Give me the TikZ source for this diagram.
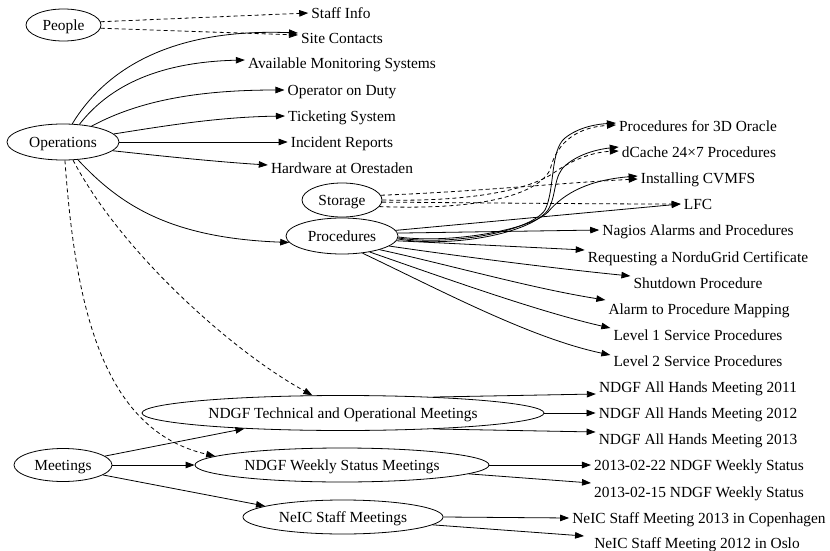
\documentclass[tikz,border=0pt]{standalone}
\usepackage{fontspec}
\setmainfont{Liberation Serif}
\usetikzlibrary{arrows.meta,shapes.geometric}
\begin{document}
\begin{tikzpicture}[x=1pt,y=-1pt,
  every node/.style={font=\fontsize{15.4}{18}\selectfont, text height=10.5pt, text depth=0pt},
  ell/.style={draw, ellipse, inner sep=0pt, line width=0.8pt},
  lbl/.style={inner xsep=3pt, inner ysep=0pt},
  e/.style={line width=0.8pt, -{Triangle[length=9pt,width=6.5pt]}},
  de/.style={e, dash pattern=on 4pt off 3pt}]
\useasboundingbox (0,0) rectangle (830,551);
% ellipses
\node[ell, minimum width=75pt, minimum height=32pt] (people) at (63.5,25) {People};
\node[ell, minimum width=112pt, minimum height=36pt] (ops) at (63,142) {Operations};
\node[ell, minimum width=80pt, minimum height=34pt] (sto) at (342,200) {Storage};
\node[ell, minimum width=112pt, minimum height=36pt] (proc) at (342,236) {Procedures};
\node[ell, minimum width=98pt, minimum height=33pt] (mtg) at (63,465) {Meetings};
\node[ell, minimum width=402pt, minimum height=35pt] (tech) at (343,413) {NDGF Technical and Operational Meetings};
\node[ell, minimum width=294pt, minimum height=34pt] (weekly) at (342,465) {NDGF Weekly Status Meetings};
\node[ell, minimum width=200pt, minimum height=34pt] (neic) at (343,517) {NeIC Staff Meetings};
% labels
\node[lbl] (staff) at (341,13) {Staff Info};
\node[lbl] (site) at (342,38) {Site Contacts};
\node[lbl] (avail) at (342,63) {Available Monitoring Systems};
\node[lbl] (duty) at (342,90) {Operator on Duty};
\node[lbl] (tick) at (342,116) {Ticketing System};
\node[lbl] (inc) at (342,142) {Incident Reports};
\node[lbl] (hw) at (342,168) {Hardware at Orestaden};
\node[lbl] (ora) at (698,126) {Procedures for 3D Oracle};
\node[lbl] (dc) at (699,152) {dCache 24×7 Procedures};
\node[lbl] (cvm) at (698,178) {Installing CVMFS};
\node[lbl] (lfc) at (698,204) {LFC};
\node[lbl] (nag) at (698,230) {Nagios Alarms and Procedures};
\node[lbl] (req) at (698,257) {Requesting a NorduGrid Certificate};
\node[lbl] (shut) at (698,283) {Shutdown Procedure};
\node[lbl] (alarm) at (699,309) {Alarm to Procedure Mapping};
\node[lbl] (l1) at (698,335) {Level 1 Service Procedures};
\node[lbl] (l2) at (698,361) {Level 2 Service Procedures};
\node[lbl] (a11) at (698,387) {NDGF All Hands Meeting 2011};
\node[lbl] (a12) at (698,413) {NDGF All Hands Meeting 2012};
\node[lbl] (a13) at (698,439) {NDGF All Hands Meeting 2013};
\node[lbl] (w22) at (699,465) {2013-02-22 NDGF Weekly Status};
\node[lbl] (w15) at (699,492) {2013-02-15 NDGF Weekly Status};
\node[lbl] (cph) at (699,518) {NeIC Staff Meeting 2013 in Copenhagen};
\node[lbl] (oslo) at (697,543) {NeIC Staff Meeting 2012 in Oslo};
% People
\draw[de] (people.5) -- (staff.west);
\draw[de] (people.-5) -- ([shift={(0,-3)}]site.west);
% Operations
\draw[e] (ops.63) .. controls (105,70) and (170,28) .. ([shift={(0,-5)}]site.west);
\draw[e] (ops.47) .. controls (110,85) and (160,62) .. ([shift={(0,-3)}]avail.west);
\draw[e] (ops.29) .. controls (140,100) and (200,90) .. (duty.west);
\draw[e] (ops.9) .. controls (170,125) and (220,117) .. (tick.west);
\draw[e] (ops.east) -- (inc.west);
\draw[e] (ops.-10) .. controls (170,157) and (220,162) .. ([shift={(0,-3)}]hw.west);
\draw[e] (ops.-50) .. controls (120,205) and (170,238) .. (proc.187);
\draw[de] (ops.-61) .. controls (120,250) and (230,350) .. (tech.150);
\draw[de] (ops.-84) .. controls (75,300) and (100,430) .. (weekly.176);
% Storage
\draw[de] (sto.-10) .. controls (470,210) and (535,198) .. (550,170) .. controls (557,140) and (580,127) .. ([shift={(0,-1)}]ora.west);
\draw[de] (sto.0) .. controls (470,202) and (530,190) .. (555,172) .. controls (575,158) and (595,152) .. ([shift={(0,-1)}]dc.west);
\draw[de] (sto.7) .. controls (470,192) and (560,183) .. ([shift={(0,1)}]cvm.west);
\draw[de] (sto.-3) .. controls (500,203) and (600,204) .. (lfc.west);
% Procedures
\draw[e] (proc.-2) .. controls (450,246) and (530,232) .. (545,210) .. controls (555,190) and (550,150) .. (565,138) .. controls (580,126) and (600,124) .. ([shift={(0,-3)}]ora.west);
\draw[e] (proc.-3) .. controls (450,248) and (530,234) .. (548,210) .. controls (557,195) and (553,175) .. (566,165) .. controls (580,153) and (600,149) .. ([shift={(0,-5)}]dc.west);
\draw[e] (proc.-1) .. controls (450,244) and (530,230) .. (548,212) .. controls (565,192) and (590,180) .. ([shift={(0,-2)}]cvm.west);
\draw[e] (proc.6) -- (lfc.west);
\draw[e] (proc.3) -- (nag.west);
\draw[e] (proc.-5) -- ([shift={(0,-7)}]req.west);
\draw[e] (proc.-12) .. controls (450,255) and (550,268) .. ([shift={(0,-7)}]shut.west);
\draw[e] (proc.-20) .. controls (450,265) and (530,288) .. ([shift={(0,-9)}]alarm.west);
\draw[e] (proc.-30) .. controls (450,280) and (540,312) .. ([shift={(0,-7)}]l1.west);
\draw[e] (proc.-40) .. controls (440,290) and (530,338) .. ([shift={(0,-6)}]l2.west);
% Meetings
\draw[e] (mtg.12) -- (tech.189);
\draw[e] (mtg.east) -- (weekly.west);
\draw[e] (mtg.-14) -- (neic.172);
\draw[e] (tech.10) -- ([shift={(0,7)}]a11.west);
\draw[e] (tech.east) -- (a12.west);
\draw[e] (tech.-10) -- ([shift={(0,-7)}]a13.west);
\draw[e] (weekly.east) -- (w22.west);
\draw[e] (weekly.-4) -- ([shift={(0,-9)}]w15.west);
\draw[e] (neic.east) -- (cph.west);
\draw[e] (neic.-5) -- ([shift={(-7,-7)}]oslo.west);
\end{tikzpicture}
\end{document}
